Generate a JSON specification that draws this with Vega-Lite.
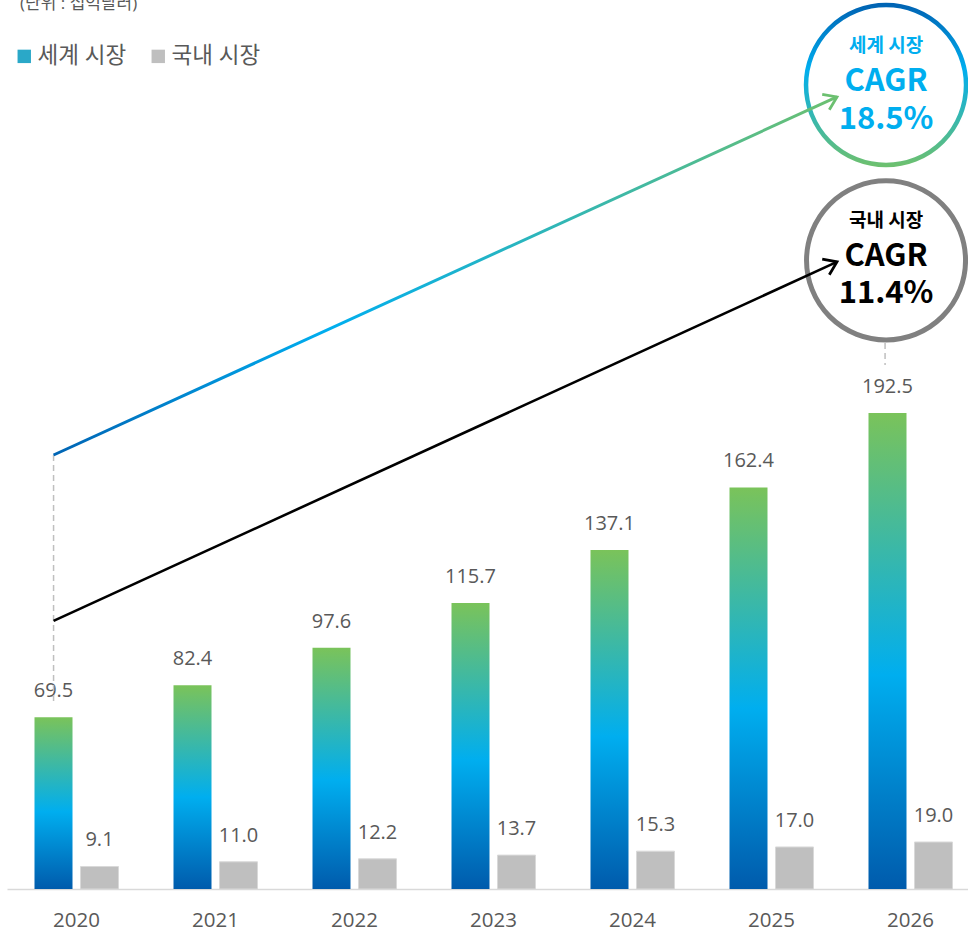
{
  "$schema": "https://vega.github.io/schema/vega-lite/v6.json",
  "width": 968,
  "height": 889,
  "autosize": {"type": "none"},
  "padding": {"left": 0, "top": 0, "right": 0, "bottom": 48},
  "config": {"view": {"stroke": null}, "font": "Open Sans, Noto Sans CJK KR"},
  "datasets": {
    "bars": [
      {"year": "2020", "series": "세계 시장", "value": 69.5},
      {"year": "2020", "series": "국내 시장", "value": 9.1},
      {"year": "2021", "series": "세계 시장", "value": 82.4},
      {"year": "2021", "series": "국내 시장", "value": 11.0},
      {"year": "2022", "series": "세계 시장", "value": 97.6},
      {"year": "2022", "series": "국내 시장", "value": 12.2},
      {"year": "2023", "series": "세계 시장", "value": 115.7},
      {"year": "2023", "series": "국내 시장", "value": 13.7},
      {"year": "2024", "series": "세계 시장", "value": 137.1},
      {"year": "2024", "series": "국내 시장", "value": 15.3},
      {"year": "2025", "series": "세계 시장", "value": 162.4},
      {"year": "2025", "series": "국내 시장", "value": 17.0},
      {"year": "2026", "series": "세계 시장", "value": 192.5},
      {"year": "2026", "series": "국내 시장", "value": 19.0}
    ],
    "trend": [
      {"series": "world", "x": 2019.835, "y": 175.5},
      {"series": "world", "x": 2025.471, "y": 320.3},
      {"series": "domestic", "x": 2019.835, "y": 108.4},
      {"series": "domestic", "x": 2025.471, "y": 253.6}
    ],
    "heads": [
      {"series": "world", "x": 2025.471, "y": 320.3},
      {"series": "domestic", "x": 2025.471, "y": 253.6}
    ],
    "guides": [
      {"x": 2019.835, "y": 175.5, "y2": 75.2},
      {"x": 2025.817, "y": 220.8, "y2": 211.9}
    ],
    "circles": [
      {"series": "world", "x": 2025.824, "y": 325.1},
      {"series": "domestic", "x": 2025.824, "y": 254.2}
    ],
    "circleText": [
      {"series": "world", "kind": "head", "x": 2025.824, "y": 341.0, "text": "세계 시장"},
      {"series": "world", "kind": "big", "x": 2025.824, "y": 326.3, "text": "CAGR"},
      {"series": "world", "kind": "big", "x": 2025.824, "y": 311.1, "text": "18.5%"},
      {"series": "domestic", "kind": "head", "x": 2025.824, "y": 270.0, "text": "국내 시장"},
      {"series": "domestic", "kind": "big", "x": 2025.824, "y": 255.4, "text": "CAGR"},
      {"series": "domestic", "kind": "big", "x": 2025.824, "y": 240.8, "text": "11.4%"}
    ],
    "unit": [
      {"x": 2019.594, "y": 355.9, "text": "(단위 : 십억달러)"}
    ]
  },
  "layer": [
    {
      "data": {"name": "bars"},
      "encoding": {
        "x": {
          "field": "year", "type": "nominal",
          "scale": {"range": [7, 980], "paddingInner": 0.3957, "paddingOuter": 0.19785},
          "axis": {"title": null, "labelFontSize": 20.5, "labelColor": "#595959", "ticks": false, "domainColor": "#d9d9d9", "domainWidth": 1.5, "labelPadding": 21, "labelAngle": 0}
        },
        "xOffset": {
          "field": "series", "type": "nominal",
          "scale": {"domain": ["세계 시장", "국내 시장"], "paddingInner": 0.1739, "paddingOuter": 0}
        },
        "y": {"field": "value", "type": "quantitative", "scale": {"domain": [0, 359.5], "nice": false, "zero": false}, "axis": null}
      },
      "layer": [
        {
          "transform": [{"filter": "datum.series == '세계 시장'"}],
          "mark": {"type": "bar", "color": {"gradient": "linear", "x1": 0, "y1": 1, "x2": 0, "y2": 0, "stops": [{"offset": 0, "color": "#005bac"}, {"offset": 0.45, "color": "#00aeef"}, {"offset": 1, "color": "#7ac35a"}]}}
        },
        {
          "transform": [{"filter": "datum.series == '국내 시장'"}],
          "mark": {"type": "bar", "stroke": "#d9d9d9", "strokeWidth": 1},
          "encoding": {
            "color": {
              "field": "series", "type": "nominal",
              "scale": {"domain": ["세계 시장", "국내 시장"], "range": ["#2aa8c8", "#bfbfbf"]},
              "legend": {
                "title": null, "orient": "none", "legendX": 13, "legendY": 45, "direction": "horizontal",
                "symbolType": "square", "symbolSize": 180, "symbolStrokeWidth": 0,
                "labelFontSize": 22.5, "labelColor": "#595959", "labelOffset": 2, "columnPadding": 20
              }
            }
          }
        },
        {
          "mark": {"type": "text", "dy": -20, "baseline": "alphabetic", "fontSize": 20, "color": "#595959"},
          "encoding": {"text": {"field": "value", "type": "quantitative", "format": ".1f"}}
        }
      ]
    },
    {
      "data": {"name": "guides"},
      "mark": {"type": "rule", "color": "#bfbfbf", "strokeWidth": 1.5, "strokeDash": [6, 4]},
      "encoding": {
        "x": {"field": "x", "type": "quantitative", "scale": {"domain": [2019.5, 2026.5], "range": [7, 980], "nice": false, "zero": false}, "axis": null},
        "y": {"field": "y", "type": "quantitative", "scale": {"domain": [0, 359.5], "nice": false, "zero": false}, "axis": null},
        "y2": {"field": "y2"}
      }
    },
    {
      "data": {"name": "circles"},
      "transform": [{"filter": "datum.series == 'world'"}],
      "mark": {"type": "point", "shape": "circle", "size": 25600, "filled": true, "fill": "#ffffff", "opacity": 1, "strokeWidth": 4.5, "stroke": {"gradient": "linear", "x1": 0, "y1": 0, "x2": 0, "y2": 1, "stops": [{"offset": 0, "color": "#0064b4"}, {"offset": 0.4, "color": "#00aeef"}, {"offset": 1, "color": "#6cc070"}]}},
      "encoding": {
        "x": {"field": "x", "type": "quantitative", "scale": {"domain": [2019.5, 2026.5], "range": [7, 980], "nice": false, "zero": false}, "axis": null},
        "y": {"field": "y", "type": "quantitative", "scale": {"domain": [0, 359.5], "nice": false, "zero": false}, "axis": null}
      }
    },
    {
      "data": {"name": "circles"},
      "transform": [{"filter": "datum.series == 'domestic'"}],
      "mark": {"type": "point", "shape": "circle", "size": 25281, "filled": true, "fill": "#ffffff", "opacity": 1, "strokeWidth": 5, "stroke": "#808080"},
      "encoding": {
        "x": {"field": "x", "type": "quantitative", "scale": {"domain": [2019.5, 2026.5], "range": [7, 980], "nice": false, "zero": false}, "axis": null},
        "y": {"field": "y", "type": "quantitative", "scale": {"domain": [0, 359.5], "nice": false, "zero": false}, "axis": null}
      }
    },
    {
      "data": {"name": "trend"},
      "transform": [{"filter": "datum.series == 'world'"}],
      "mark": {"type": "line", "strokeWidth": 3, "stroke": {"gradient": "linear", "x1": 0, "y1": 0, "x2": 1, "y2": 0, "stops": [{"offset": 0, "color": "#0064b4"}, {"offset": 0.35, "color": "#00aeef"}, {"offset": 1, "color": "#6cc070"}]}},
      "encoding": {
        "x": {"field": "x", "type": "quantitative", "scale": {"domain": [2019.5, 2026.5], "range": [7, 980], "nice": false, "zero": false}, "axis": null},
        "y": {"field": "y", "type": "quantitative", "scale": {"domain": [0, 359.5], "nice": false, "zero": false}, "axis": null}
      }
    },
    {
      "data": {"name": "trend"},
      "transform": [{"filter": "datum.series == 'domestic'"}],
      "mark": {"type": "line", "strokeWidth": 2.6, "color": "#000000"},
      "encoding": {
        "x": {"field": "x", "type": "quantitative", "scale": {"domain": [2019.5, 2026.5], "range": [7, 980], "nice": false, "zero": false}, "axis": null},
        "y": {"field": "y", "type": "quantitative", "scale": {"domain": [0, 359.5], "nice": false, "zero": false}, "axis": null}
      }
    },
    {
      "data": {"name": "heads"},
      "mark": {"type": "point", "shape": "M-0.82,-0.57L0,0L-0.82,0.57", "size": 900, "angle": 335.5, "filled": false, "strokeWidth": 2.8, "opacity": 1},
      "encoding": {
        "x": {"field": "x", "type": "quantitative", "scale": {"domain": [2019.5, 2026.5], "range": [7, 980], "nice": false, "zero": false}, "axis": null},
        "y": {"field": "y", "type": "quantitative", "scale": {"domain": [0, 359.5], "nice": false, "zero": false}, "axis": null},
        "stroke": {"condition": {"test": "datum.series == 'world'", "value": "#6cc070"}, "value": "#000000"}
      }
    },
    {
      "data": {"name": "circleText"},
      "mark": {"type": "text", "font": "Noto Sans CJK KR", "fontWeight": "bold", "baseline": "middle", "align": "center"},
      "encoding": {
        "x": {"field": "x", "type": "quantitative", "scale": {"domain": [2019.5, 2026.5], "range": [7, 980], "nice": false, "zero": false}, "axis": null},
        "y": {"field": "y", "type": "quantitative", "scale": {"domain": [0, 359.5], "nice": false, "zero": false}, "axis": null},
        "text": {"field": "text"},
        "size": {"condition": {"test": "datum.kind == 'head'", "value": 19}, "value": 31},
        "color": {"condition": {"test": "datum.series == 'world'", "value": "#00aeef"}, "value": "#000000"}
      }
    },
    {
      "data": {"name": "unit"},
      "mark": {"type": "text", "align": "left", "baseline": "alphabetic", "fontSize": 17, "color": "#595959"},
      "encoding": {
        "x": {"field": "x", "type": "quantitative", "scale": {"domain": [2019.5, 2026.5], "range": [7, 980], "nice": false, "zero": false}, "axis": null},
        "y": {"field": "y", "type": "quantitative", "scale": {"domain": [0, 359.5], "nice": false, "zero": false}, "axis": null},
        "text": {"field": "text"}
      }
    }
  ],
  "resolve": {"scale": {"x": "independent"}}
}
